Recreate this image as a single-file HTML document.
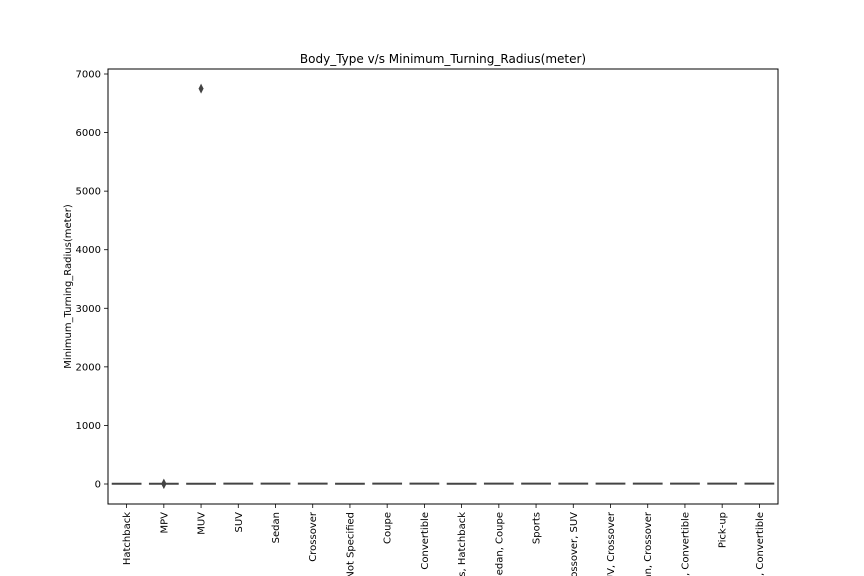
<!DOCTYPE html>
<html><head><meta charset="utf-8"><style>
html,body{margin:0;background:#fff;width:864px;height:576px;overflow:hidden;}
svg{display:block;font-family:"DejaVu Sans","Liberation Sans",sans-serif;overflow:hidden;}
</style></head><body>
<svg id="c" width="864" height="576">
<defs><clipPath id="clipAll"><rect x="0" y="0" width="864" height="576"/></clipPath></defs>
<g id="root" clip-path="url(#clipAll)"></g>
</svg>
<script>
const categories=["Hatchback","MPV","MUV","SUV","Sedan","Crossover","Not Specified","Coupe","Convertible","Sports, Hatchback","Sedan, Coupe","Sports","Crossover, SUV","SUV, Crossover","Sedan, Crossover","Coupe, Convertible","Pick-up","Sedan, Convertible"];
const medians=[5,5.2,5.3,5.5,5.4,5.5,5.3,5.6,5.5,5.2,5.5,5.6,5.5,5.5,5.4,5.6,6,5.5];
const outlierCats=["MPV","MUV"];
const outlierVals=[[0,3,6],[6750]];
const yTicks=[0,1000,2000,3000,4000,5000,6000,7000];
const NS="http://www.w3.org/2000/svg";
const svg=document.getElementById('root');
const L=108,R=778,T=69,B=504;
const y=v=>484-(v)*(410/7000);
const bw=(R-L)/categories.length;
const x=i=>L+bw*(i+0.5);
function mk(t,a,p){const e=document.createElementNS(NS,t);for(const k in a)e.setAttribute(k,a[k]);(p||svg).appendChild(e);return e;}
const title=mk('text',{x:(L+R)/2,y:63,'text-anchor':'middle','font-size':12});
title.textContent="Body_Type v/s Minimum_Turning_Radius(meter)";


const yl=mk('text',{x:0,y:0,'text-anchor':'middle','font-size':10,transform:`translate(71,${(T+B)/2}) rotate(-90)`});
yl.textContent="Minimum_Turning_Radius(meter)";


yTicks.forEach(v=>{
  const t=mk('line',{x1:L-4,x2:L,y1:y(v),y2:y(v),stroke:'#000','stroke-width':0.8});
  
  
  const tx=mk('text',{x:L-7,y:y(v)+3.5,'text-anchor':'end','font-size':10});
  tx.textContent=v;
  
  
});
categories.forEach((c,i)=>{
  const b=mk('line',{x1:x(i)-bw*0.4,x2:x(i)+bw*0.4,y1:y(medians[i]),y2:y(medians[i]),stroke:'#444','stroke-width':2});
  
  
  const t=mk('line',{x1:x(i),x2:x(i),y1:B,y2:B+4,stroke:'#000','stroke-width':0.8});
  
  
  const tx=mk('text',{x:0,y:0,'text-anchor':'end','font-size':10,transform:`translate(${x(i)+3.5},${B+8}) rotate(-90)`});
  tx.textContent=c;
  
  
});
outlierCats.forEach((c,k)=>{
  const i=categories.indexOf(c);
  outlierVals[k].forEach(v=>{
    const cx=x(i),cy=y(v);
    const d=mk('polygon',{points:`${cx},${cy-5} ${cx+2.5},${cy} ${cx},${cy+5} ${cx-2.5},${cy}`,fill:'#444'});
    
    
  });
});
const fr=mk('rect',{x:L,y:T,width:R-L,height:B-T,fill:'none',stroke:'#000','stroke-width':1});


</script>
</body></html>
